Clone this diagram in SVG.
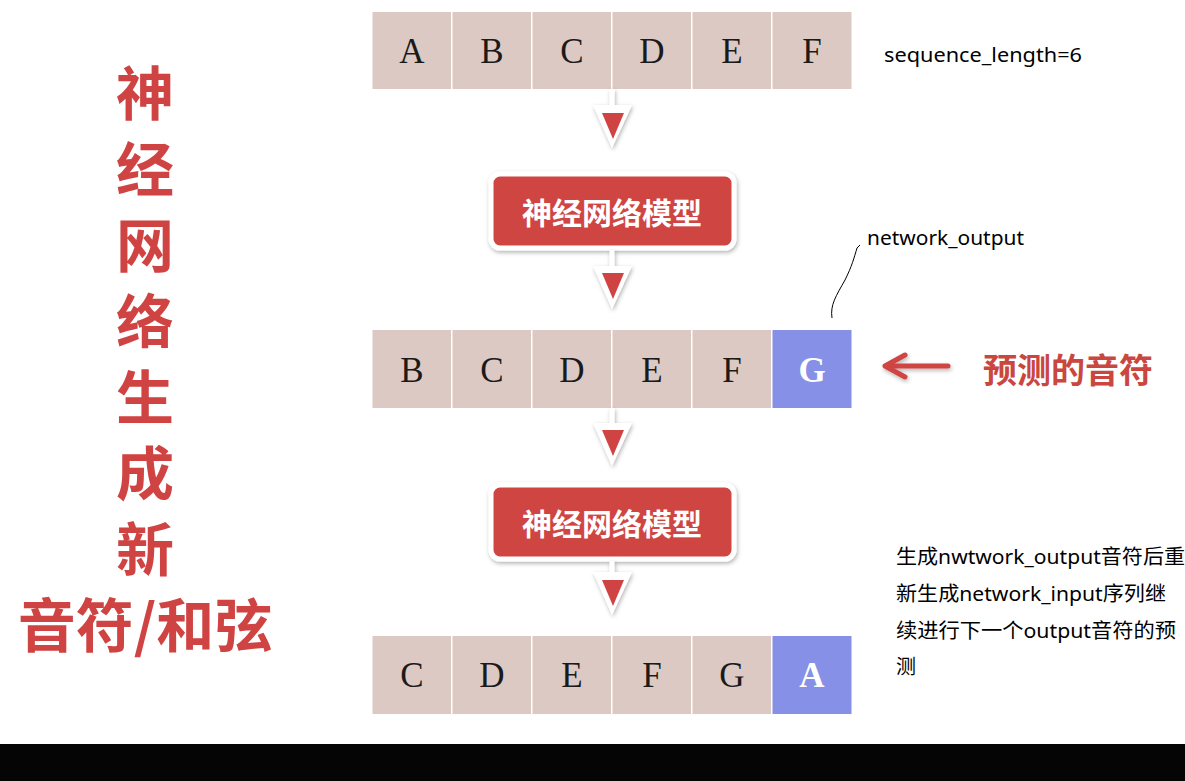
<svg xmlns="http://www.w3.org/2000/svg" width="1185" height="781" viewBox="0 0 1185 781">
<defs>
<filter id="sh" x="-20%" y="-20%" width="140%" height="150%">
<feDropShadow dx="1" dy="2" stdDeviation="2" flood-color="#000" flood-opacity="0.3"/>
</filter>
<style>
.cell{fill:#dcc9c3}
.hit{fill:#8590e6}
.lt{font-family:"Liberation Serif",serif;font-size:35px;fill:#1a1a1a;text-anchor:middle}
.lw{font-family:"Liberation Serif",serif;font-size:35px;fill:#fff;font-weight:bold;text-anchor:middle}
.box{fill:#cf4443;stroke:#fff;stroke-width:5}
.bt{font-family:"Noto Sans CJK SC",sans-serif;font-weight:bold;font-size:30px;fill:#fff;text-anchor:middle}
.title{font-family:"Noto Sans CJK SC",sans-serif;font-weight:bold;font-size:58px;fill:#cf4443;text-anchor:middle}
.note{font-family:"Noto Sans","Noto Sans CJK SC",sans-serif;font-size:20px;fill:#000}
.stem{stroke:#fff;stroke-width:5}
.outer{fill:#fff}
.inner{fill:#cf4443}
</style>
</defs>
<rect width="1185" height="781" fill="#fff"/>
<rect x="0" y="744" width="1185" height="37" fill="#050505"/>

<g id="title">
<text class="title" x="145" y="115">神</text>
<text class="title" x="145" y="191">经</text>
<text class="title" x="145" y="267">网</text>
<text class="title" x="145" y="343">络</text>
<text class="title" x="145" y="419">生</text>
<text class="title" x="145" y="495">成</text>
<text class="title" x="145" y="571">新</text>
<text class="title" x="145" y="647">音符/和弦</text>
</g>

<g id="row1">
<rect class="cell" x="372.5" y="12" width="78.5" height="77"/>
<rect class="cell" x="452.5" y="12" width="78.5" height="77"/>
<rect class="cell" x="532.5" y="12" width="78.5" height="77"/>
<rect class="cell" x="612.5" y="12" width="78.5" height="77"/>
<rect class="cell" x="692.5" y="12" width="78.5" height="77"/>
<rect class="cell" x="772.5" y="12" width="79" height="77"/>
<text class="lt" x="412" y="63">A</text>
<text class="lt" x="492" y="63">B</text>
<text class="lt" x="572" y="63">C</text>
<text class="lt" x="652" y="63">D</text>
<text class="lt" x="732" y="63">E</text>
<text class="lt" x="812" y="63">F</text>
</g>

<g id="row2">
<rect class="cell" x="372.5" y="330" width="78.5" height="78"/>
<rect class="cell" x="452.5" y="330" width="78.5" height="78"/>
<rect class="cell" x="532.5" y="330" width="78.5" height="78"/>
<rect class="cell" x="612.5" y="330" width="78.5" height="78"/>
<rect class="cell" x="692.5" y="330" width="78.5" height="78"/>
<rect class="hit" x="772.5" y="330" width="79" height="78"/>
<text class="lt" x="412" y="382">B</text>
<text class="lt" x="492" y="382">C</text>
<text class="lt" x="572" y="382">D</text>
<text class="lt" x="652" y="382">E</text>
<text class="lt" x="732" y="382">F</text>
<text class="lw" x="812" y="382">G</text>
</g>

<g id="row3">
<rect class="cell" x="372.5" y="636" width="78.5" height="78"/>
<rect class="cell" x="452.5" y="636" width="78.5" height="78"/>
<rect class="cell" x="532.5" y="636" width="78.5" height="78"/>
<rect class="cell" x="612.5" y="636" width="78.5" height="78"/>
<rect class="cell" x="692.5" y="636" width="78.5" height="78"/>
<rect class="hit" x="772.5" y="636" width="79" height="78"/>
<text class="lt" x="412" y="687">C</text>
<text class="lt" x="492" y="687">D</text>
<text class="lt" x="572" y="687">E</text>
<text class="lt" x="652" y="687">F</text>
<text class="lt" x="732" y="687">G</text>
<text class="lw" x="812" y="687">A</text>
</g>

<g id="model1">
<rect class="box" x="491" y="174" width="243" height="74" rx="9" filter="url(#sh)"/>
<text class="bt" x="612" y="224">神经网络模型</text>
</g>

<g id="model2">
<rect class="box" x="491" y="485" width="243" height="74" rx="9" filter="url(#sh)"/>
<text class="bt" x="612" y="535">神经网络模型</text>
</g>

<g id="connectors">
<g filter="url(#sh)">
<line class="stem" x1="612" y1="89" x2="612" y2="108"/>
<polygon class="outer" points="593,105 632,105 612,148"/>
<line class="stem" x1="612" y1="250" x2="612" y2="268"/>
<polygon class="outer" points="593,266 632,266 612,309"/>
<line class="stem" x1="612" y1="408" x2="612" y2="425"/>
<polygon class="outer" points="593,423 632,423 612,466"/>
<line class="stem" x1="612" y1="561" x2="612" y2="575"/>
<polygon class="outer" points="593,572 632,572 612,615"/>
</g>
<polygon class="inner" points="602,113 624,113 613,139"/>
<polygon class="inner" points="602,273 624,273 613,299"/>
<polygon class="inner" points="602,430 624,430 613,456"/>
<polygon class="inner" points="602,580 624,580 613,606"/>
<g filter="url(#sh)" stroke="#cf4443" stroke-width="5" fill="none" stroke-linecap="round" stroke-linejoin="round">
<line x1="886" y1="366" x2="948" y2="366"/>
<polyline points="905,355 885,366 905,377"/>
</g>
<path d="M832,318 C830,305 836,296 845,280 C852,266 854,258 857,248 L860,245" fill="none" stroke="#000" stroke-width="1"/>
</g>

<g id="labels">
<text class="note" x="884" y="62" textLength="198" lengthAdjust="spacingAndGlyphs">sequence_length=6</text>
<text class="note" x="867" y="245" textLength="157" lengthAdjust="spacingAndGlyphs">network_output</text>
<text x="983" y="383" font-family="Noto Sans CJK SC,sans-serif" font-weight="bold" font-size="34" fill="#c9473f">预测的音符</text>
<text class="note" x="896" y="564" textLength="289" lengthAdjust="spacingAndGlyphs">生成nwtwork_output音符后重</text>
<text class="note" x="896" y="601" textLength="270" lengthAdjust="spacingAndGlyphs">新生成network_input序列继</text>
<text class="note" x="896" y="638" textLength="280" lengthAdjust="spacingAndGlyphs">续进行下一个output音符的预</text>
<text class="note" x="896" y="674">测</text>
</g>
</svg>
